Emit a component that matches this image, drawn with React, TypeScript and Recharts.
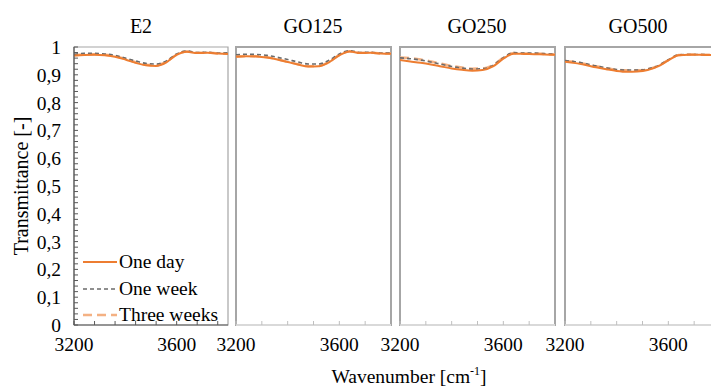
import { Legend, Line, LineChart, ReferenceArea, XAxis, YAxis } from 'recharts';

// wavenumber grid [cm-1] shared by every sample
const wavenumbers = [3200, 3240, 3280, 3320, 3360, 3400, 3440, 3480, 3520, 3560, 3600, 3640, 3680, 3720, 3760, 3800];

// transmittance
const e2Day = [0.969, 0.971, 0.972, 0.970, 0.965, 0.955, 0.943, 0.934, 0.932, 0.945, 0.972, 0.983, 0.978, 0.979, 0.977, 0.975];
const e2Week = [0.974, 0.977, 0.977, 0.975, 0.970, 0.960, 0.950, 0.941, 0.939, 0.950, 0.975, 0.986, 0.980, 0.981, 0.978, 0.979];
const e2ThreeWeeks = [0.970, 0.973, 0.974, 0.972, 0.967, 0.957, 0.945, 0.936, 0.934, 0.947, 0.973, 0.984, 0.979, 0.980, 0.977, 0.976];

const go125Day = [0.965, 0.967, 0.966, 0.962, 0.955, 0.946, 0.937, 0.930, 0.931, 0.945, 0.970, 0.984, 0.978, 0.979, 0.977, 0.976];
const go125Week = [0.972, 0.974, 0.973, 0.970, 0.963, 0.955, 0.946, 0.939, 0.939, 0.952, 0.975, 0.987, 0.980, 0.981, 0.978, 0.978];
const go125ThreeWeeks = [0.966, 0.968, 0.967, 0.963, 0.956, 0.947, 0.938, 0.931, 0.932, 0.946, 0.971, 0.985, 0.979, 0.980, 0.977, 0.977];

const go250Day = [0.953, 0.948, 0.943, 0.937, 0.930, 0.923, 0.918, 0.915, 0.917, 0.930, 0.958, 0.976, 0.975, 0.974, 0.973, 0.972];
const go250Week = [0.961, 0.958, 0.953, 0.946, 0.938, 0.930, 0.924, 0.921, 0.922, 0.934, 0.962, 0.980, 0.978, 0.978, 0.976, 0.974];
const go250ThreeWeeks = [0.962, 0.960, 0.955, 0.948, 0.940, 0.932, 0.926, 0.922, 0.923, 0.935, 0.961, 0.978, 0.977, 0.977, 0.975, 0.973];

const go500Day = [0.947, 0.942, 0.935, 0.927, 0.920, 0.914, 0.911, 0.912, 0.917, 0.930, 0.952, 0.970, 0.972, 0.972, 0.971, 0.971];
const go500Week = [0.951, 0.947, 0.940, 0.932, 0.925, 0.919, 0.917, 0.917, 0.921, 0.933, 0.954, 0.972, 0.973, 0.973, 0.972, 0.972];
const go500ThreeWeeks = [0.950, 0.946, 0.939, 0.931, 0.924, 0.918, 0.916, 0.916, 0.920, 0.932, 0.953, 0.971, 0.973, 0.973, 0.972, 0.972];

const panelTitles = ['E2', 'GO125', 'GO250', 'GO500'];
const seriesNames = ['One day', 'One week', 'Three weeks'];

const xTicksE2 = [3200, 3280, 3360, 3440, 3520, 3600, 3680, 3760];
const xTicksGO = [3200, 3300, 3400, 3500, 3600, 3700];
const xTickLabels = [3200, 3600];
const yTicks = [
  0, 0.02, 0.04, 0.06, 0.08, 0.1, 0.12, 0.14, 0.16, 0.18, 0.2, 0.22, 0.24, 0.26, 0.28, 0.3, 0.32, 0.34, 0.36, 0.38,
  0.4, 0.42, 0.44, 0.46, 0.48, 0.5, 0.52, 0.54, 0.56, 0.58, 0.6, 0.62, 0.64, 0.66, 0.68, 0.7, 0.72, 0.74, 0.76, 0.78,
  0.8, 0.82, 0.84, 0.86, 0.88, 0.9, 0.92, 0.94, 0.96, 0.98, 1,
];
const yTickLabels = [0, 0.1, 0.2, 0.3, 0.4, 0.5, 0.6, 0.7, 0.8, 0.9, 1];

const build = (day: number[], week: number[], three: number[]) =>
  wavenumbers.map((w, i) => ({ w, day: day[i], week: week[i], three: three[i] }));

const panels = [
  build(e2Day, e2Week, e2ThreeWeeks),
  build(go125Day, go125Week, go125ThreeWeeks),
  build(go250Day, go250Week, go250ThreeWeeks),
  build(go500Day, go500Week, go500ThreeWeeks),
];

const SERIF = "'Liberation Serif', 'Times New Roman', serif";
const styles = [
  { key: 'three', color: '#F4B183', width: 2.5, dash: '9 5' },
  { key: 'week', color: '#6b6b6b', width: 1.6, dash: '4 3' },
  { key: 'day', color: '#ED7D31', width: 2, dash: undefined as string | undefined },
];
const legendOrder = ['day', 'week', 'three'];

const fmtX = (v: number) => (xTickLabels.includes(v) ? String(v) : '');
const fmtY = (v: number) => {
  if (!yTickLabels.some((l) => Math.abs(l - v) < 1e-9)) return '';
  if (v === 0 || v === 1) return String(v);
  return v.toFixed(1).replace('.', ',');
};

function LegendBox() {
  return (
    <div style={{ fontFamily: SERIF, fontSize: 19.5, color: '#000' }}>
      {legendOrder.map((k, i) => {
        const s = styles.find((x) => x.key === k)!;
        return (
          <div key={k} style={{ display: 'flex', alignItems: 'center', height: 26.5 }}>
            <svg width={36} height={10} style={{ marginRight: 1 }}>
              <line x1={1} y1={5} x2={35} y2={5} stroke={s.color} strokeWidth={s.width} strokeDasharray={s.dash} />
            </svg>
            <span>{seriesNames[i]}</span>
          </div>
        );
      })}
    </div>
  );
}

// plot areas: E2 74-228, GO125 236-391, GO250 400-555, GO500 565-720 (cut at 711)
const panelLayout = [
  { left: 0, width: 234, marginLeft: 0 },
  { left: 206, width: 191, marginLeft: 30 },
  { left: 370, width: 191, marginLeft: 30 },
  { left: 535, width: 191, marginLeft: 30 },
];
const titleCenters = [141, 313, 477, 638];

function Panel({ idx }: { idx: number }) {
  const first = idx === 0;
  const lay = panelLayout[idx];
  return (
    <div style={{ position: 'absolute', left: lay.left, top: 0 }}>
      <LineChart
        width={lay.width}
        height={388}
        data={panels[idx]}
        margin={{ top: 47, right: 6, bottom: 33, left: lay.marginLeft }}
      >
        <ReferenceArea
          x1={3200}
          x2={3800}
          y1={0}
          y2={1}
          fill="none"
          stroke="#a6a6a6"
          strokeWidth={first ? 1.2 : 2}
          ifOverflow="visible"
        />
        <XAxis
          dataKey="w"
          type="number"
          domain={[3200, 3800]}
          ticks={first ? xTicksE2 : xTicksGO}
          interval={0}
          tickFormatter={fmtX}
          height={30}
          tickSize={-4}
          tickMargin={16}
          axisLine={{ stroke: first ? '#595959' : '#d9d9d9', strokeWidth: first ? 1.2 : 2 }}
          tickLine={{ stroke: first ? '#595959' : '#bfbfbf' }}
          tick={{ fill: '#000', fontSize: 19.5, style: { fontFamily: SERIF } }}
          allowDataOverflow
        />
        <YAxis
          type="number"
          domain={[0, 1]}
          ticks={yTicks}
          interval={0}
          tickFormatter={fmtY}
          hide={!first}
          width={74}
          tickSize={-4}
          tickMargin={17}
          axisLine={{ stroke: '#595959', strokeWidth: 1.2 }}
          tickLine={{ stroke: '#595959' }}
          tick={{ fill: '#000', fontSize: 19.5, style: { fontFamily: SERIF } }}
          label={{
            value: 'Transmittance [-]',
            angle: -90,
            position: 'insideLeft',
            offset: 21,
            style: { textAnchor: 'middle', fontFamily: SERIF, fontSize: 20, fill: '#000' },
          }}
        />
        {styles.map((s) => (
          <Line
            key={s.key}
            type="monotone"
            dataKey={s.key}
            name={seriesNames[legendOrder.indexOf(s.key)]}
            stroke={s.color}
            strokeWidth={s.width}
            strokeDasharray={s.dash}
            dot={false}
            isAnimationActive={false}
          />
        ))}
        {first && (
          <Legend
            layout="vertical"
            align="center"
            verticalAlign="middle"
            content={() => <LegendBox />}
            wrapperStyle={{ left: 82, top: 249, width: 150 }}
          />
        )}
      </LineChart>
      <div
        style={{
          position: 'absolute',
          top: 15,
          left: titleCenters[idx] - lay.left - 50,
          width: 100,
          textAlign: 'center',
          fontFamily: SERIF,
          fontSize: 20,
        }}
      >
        {panelTitles[idx]}
      </div>
    </div>
  );
}

export default function App() {
  return (
    <div
      style={{
        position: 'absolute',
        left: 0,
        top: 0,
        width: 711,
        height: 388,
        overflow: 'hidden',
        background: '#fff',
      }}
    >
      {panelTitles.map((_, i) => (
        <Panel key={i} idx={i} />
      ))}
      <div
        style={{
          position: 'absolute',
          left: 309,
          top: 364,
          width: 200,
          textAlign: 'center',
          fontFamily: SERIF,
          fontSize: 19.5,
        }}
      >
        Wavenumber [cm<sup style={{ fontSize: 12 }}>-1</sup>]
      </div>
    </div>
  );
}
